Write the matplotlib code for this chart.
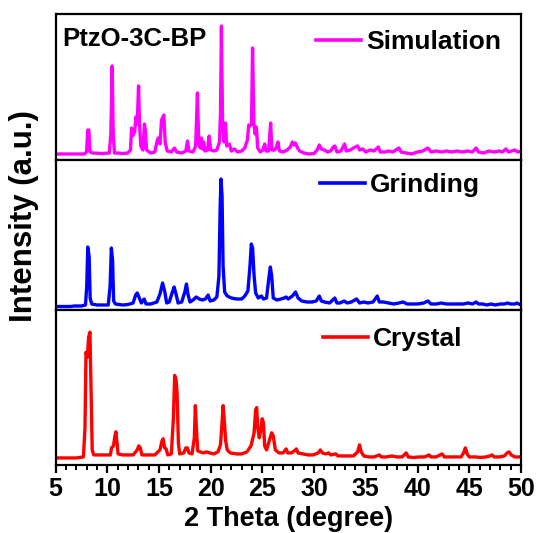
import matplotlib
matplotlib.use("Agg")
import matplotlib.pyplot as plt
from matplotlib.ticker import MultipleLocator

plt.rcParams["font.family"] = ["Liberation Sans", "DejaVu Sans"]
plt.rcParams["font.weight"] = "bold"

# ---- PXRD traces: (2theta, intensity above baseline) ----
sim_tt = [5.0, 7.8, 8.0, 8.12, 8.22, 8.35, 8.6, 9.5, 10.2, 10.35, 10.48, 10.58, 10.7, 11.0, 11.5,
          12.0, 12.25, 12.35, 12.45, 12.65, 12.77, 12.9, 13.03, 13.12, 13.25, 13.45, 13.6, 13.7, 13.8,
          14.2, 14.6, 14.85, 14.95, 15.1, 15.25, 15.47, 15.6, 15.8, 16.2, 16.5, 16.7, 17.2, 17.6,
          17.76, 17.9, 18.3, 18.55, 18.72, 18.85, 19.0, 19.1, 19.2, 19.32, 19.45, 19.7, 19.85, 20.0,
          20.3, 20.6, 20.85, 20.95, 21.04, 21.15, 21.3, 21.43, 21.55, 21.8, 22.0, 22.3, 22.6, 23.0,
          23.3, 23.55, 23.68, 23.8, 23.95, 24.05, 24.18, 24.3, 24.42, 24.55, 24.8, 25.05, 25.22,
          25.35, 25.6, 25.8, 25.92, 26.2, 26.4, 26.5, 26.65, 27.0, 27.4, 27.7, 27.9, 28.05, 28.2,
          28.4, 28.6, 29.0, 29.5, 30.0, 30.3, 30.5, 30.7, 31.0, 31.3, 31.6, 31.85, 32.0, 32.2, 32.6,
          32.95, 33.1, 33.5, 33.8, 34.0, 34.2, 34.4, 34.7, 35.0, 35.4, 35.8, 36.2, 36.4, 36.8, 37.2,
          37.6, 38.2, 38.4, 38.9, 39.4, 40.0, 40.5, 41.0, 41.3, 41.8, 42.3, 42.8, 43.3, 43.8, 44.3,
          44.8, 45.3, 45.66, 45.9, 46.4, 46.9, 47.4, 47.9, 48.2, 48.55, 48.8, 49.4, 49.7, 50.0]
sim_int = [0, 0, 2, 24, 24, 2, 1, 0.5, 1, 20, 88, 20, 1, 1, 0.5,
           1, 4, 26, 18, 22, 37, 30, 68, 30, 8, 4, 30, 22, 4,
           1, 2, 14, 16, 10, 34, 39, 12, 3, 2, 6, 2, 1, 3,
           13, 3, 2, 8, 61, 10, 6, 16, 5, 12, 3, 4, 18, 4,
           3, 4, 12, 40, 128, 30, 12, 31, 8, 10, 3, 5, 2, 3,
           6, 14, 29, 28, 30, 106, 30, 20, 27, 6, 2, 4, 10,
           3, 3, 31, 4, 4, 8, 12, 3, 2, 4, 7, 12, 9, 11,
           6, 3, 1, 0, 0.5, 4, 9, 5, 4, 2, 3, 7, 8, 2, 3,
           10, 3, 4, 6, 7, 8, 4, 5, 2, 4, 3, 7, 2, 2, 3,
           2, 6, 2, 1, 0, 2, 3, 6, 2, 3, 2, 3, 2, 3, 2,
           3, 2, 6, 2, 1, 3, 2, 3, 2, 5, 2, 4, 2, 3]

grind_tt = [5.0, 6.5, 6.8, 7.5, 7.9, 8.02, 8.12, 8.25, 8.35, 8.5, 9.0, 9.5, 10.1, 10.28, 10.4, 10.52,
            10.62, 10.8, 11.5, 12.0, 12.5, 12.75, 12.9, 13.1, 13.3, 13.57, 13.75, 14.2, 14.8, 15.1,
            15.35, 15.55, 15.75, 16.0, 16.3, 16.47, 16.65, 16.85, 17.2, 17.5, 17.66, 17.8, 18.0, 18.3,
            18.6, 18.9, 19.2, 19.5, 19.75, 19.95, 20.3, 20.6, 20.8, 20.92, 21.0, 21.1, 21.2, 21.35,
            21.6, 22.0, 22.5, 23.0, 23.3, 23.6, 23.8, 23.93, 24.05, 24.2, 24.35, 24.6, 24.9, 25.1,
            25.4, 25.65, 25.77, 25.9, 26.05, 26.4, 26.8, 27.1, 27.3, 27.5, 27.9, 28.2, 28.45, 28.8,
            29.3, 29.8, 30.2, 30.5, 30.7, 31.0, 31.5, 32.0, 32.2, 32.5, 32.9, 33.2, 33.6, 34.1, 34.4,
            34.8, 35.2, 35.7, 36.1, 36.3, 36.7, 37.2, 37.7, 38.2, 38.6, 39.0, 39.5, 40.0, 40.6, 41.0,
            41.3, 41.8, 42.3, 42.8, 43.3, 43.8, 44.4, 44.9, 45.3, 45.66, 45.9, 46.3, 46.7, 47.1, 47.5,
            48.0, 48.4, 48.7, 49.0, 49.4, 49.6, 50.0]
grind_int = [-0.5, -0.5, 0, 0, 1, 20, 59, 50, 8, 2, 1, 1, 1, 20, 58, 45,
             5, 2, 1, 1.5, 3, 11, 13, 8, 3, 7, 2, 2, 4, 12,
             23, 15, 3, 4, 14, 19, 12, 3, 4, 14, 22, 12, 4, 6,
             9, 7, 6, 7, 11, 5, 6, 9, 30, 100, 127, 110, 40, 14,
             10, 8, 7, 7, 10, 15, 40, 62, 58, 30, 13, 8, 10, 7,
             8, 30, 39, 30, 8, 6, 7, 8, 9, 7, 10, 14, 8, 5,
             4, 4, 5, 10, 5, 4, 3, 8, 3, 3, 5, 3, 4, 7, 3,
             4, 3, 4, 10, 4, 4, 3, 2, 3, 4, 2, 2, 2, 3, 5,
             2, 2, 3, 2, 2, 2, 2, 3, 2, 4, 2, 2, 1, 2, 1,
             2, 2, 3, 2, 2, 3, 1]

cryst_tt = [5.0, 7.0, 7.7, 7.85, 7.95, 8.08, 8.2, 8.33, 8.45, 8.55, 8.7, 9.2, 9.8, 10.3, 10.42, 10.6,
            10.75, 10.84, 10.95, 11.05, 11.5, 12.0, 12.5, 12.9, 13.05, 13.2, 13.35, 14.0, 14.6, 15.1,
            15.3, 15.4, 15.55, 15.7, 15.85, 16.2, 16.4, 16.52, 16.65, 16.75, 16.88, 17.0, 17.4, 17.6,
            17.75, 17.9, 18.2, 18.42, 18.52, 18.62, 18.75, 19.0, 19.3, 19.6, 19.9, 20.3, 20.7, 20.95,
            21.1, 21.2, 21.3, 21.45, 21.6, 21.9, 22.5, 23.0, 23.5, 23.9, 24.2, 24.35, 24.45, 24.55,
            24.7, 24.85, 24.98, 25.1, 25.22, 25.4, 25.7, 25.9, 26.05, 26.25, 26.6, 27.0, 27.3, 27.45,
            27.8, 28.1, 28.28, 28.45, 28.9, 29.4, 29.9, 30.4, 30.6, 30.8, 31.1, 31.4, 31.6, 32.1,
            32.3, 32.8, 33.3, 33.8, 34.2, 34.39, 34.55, 34.8, 35.3, 35.8, 36.3, 36.5, 37.0, 37.5,
            38.0, 38.5, 38.9, 39.1, 39.6, 40.2, 40.7, 41.1, 41.3, 41.8, 42.37, 42.6, 43.2, 43.7,
            44.2, 44.45, 44.62, 44.8, 45.0, 45.6, 46.1, 46.6, 47.0, 47.2, 47.4, 47.9, 48.4, 48.65,
            48.85, 49.05, 49.4, 49.8, 50.0]
cryst_int = [0, 0, 1, 30, 105, 100, 120, 125, 60, 8, 3, 3, 3, 3, 10, 12,
             22, 26, 15, 4, 3, 3, 3, 8, 12, 10, 3, 3, 3, 8,
             17, 19, 10, 9, 3, 4, 40, 82, 78, 65, 15, 4, 5, 10,
             10, 5, 4, 20, 52, 30, 7, 6, 5, 6, 5, 4, 6, 13,
             35, 52, 40, 17, 8, 5, 4, 4, 6, 12, 25, 48, 50, 30,
             20, 28, 39, 35, 12, 8, 18, 25, 22, 8, 5, 5, 9, 5,
             5, 7, 9, 5, 4, 3, 3, 5, 8, 5, 4, 5, 3, 4,
             2, 2, 2, 2, 6, 13, 6, 2, 1, 1, 3, 1, 1, 2,
             1, 1, 5, 1, 0.5, 1, 1, 3, 1, 1, 4, 1, 1, 1,
             1, 5, 10, 4, 1, 1, 0.5, 1, 2, 3, 1, 1, 2, 5,
             6, 3, 1, 1, 1]

panels = [
    (sim_tt, sim_int, "#ff00ff", "Simulation", (-6, 140), 0.56, 0.81),
    (grind_tt, grind_int, "#0000ff", "Grinding", (-4, 146), 0.568, 0.833),
    (cryst_tt, cryst_int, "#ff0000", "Crystal", (-7, 147), 0.575, 0.81),
]

fig = plt.figure(figsize=(5.37, 5.33), dpi=100)
gs = fig.add_gridspec(3, 1, height_ratios=[146, 150, 155], hspace=0,
                      left=55.5 / 537, right=521 / 537, top=1 - 14 / 533, bottom=1 - 465 / 533)

axes = []
for i, (tt, inten, color, name, ylim, lx, ly) in enumerate(panels):
    ax = fig.add_subplot(gs[i])
    ax.plot(tt, inten, color=color, lw=2.4, label=name)
    ax.set_xlim(5, 50)
    ax.set_ylim(*ylim)
    ax.set_yticks([])
    for sp in ax.spines.values():
        sp.set_linewidth(1.6)
    leg = ax.legend(loc="center left", bbox_to_anchor=(lx, ly), frameon=False,
                    fontsize=19, handlelength=1.7, handletextpad=0.2,
                    borderpad=0, borderaxespad=0)
    for line in leg.get_lines():
        line.set_linewidth(2.6)
    for t in leg.get_texts():
        t.set_fontweight("bold")
    if i < 2:
        ax.tick_params(axis="x", which="both", bottom=False, labelbottom=False)
    axes.append(ax)

axes[0].text(0.014, 0.83, "PtzO-3C-BP", transform=axes[0].transAxes, fontsize=18.5,
             fontweight="bold", va="center", ha="left")

bx = axes[2]
bx.xaxis.set_major_locator(MultipleLocator(5))
bx.xaxis.set_minor_locator(MultipleLocator(1))
bx.tick_params(axis="x", which="major", direction="out", length=5.5, width=1.6,
               labelsize=18, pad=3)
bx.tick_params(axis="x", which="minor", direction="out", length=3.5, width=1.4)
for lab in bx.get_xticklabels():
    lab.set_fontweight("bold")
bx.set_xlabel("2 Theta (degree)", fontsize=19.5, fontweight="bold", labelpad=4)

fig.text(24 / 537, 0.595, "Intensity (a.u.)", rotation=90, fontsize=22.5,
         fontweight="bold", ha="center", va="center")

fig.savefig("out.png", dpi=100)
